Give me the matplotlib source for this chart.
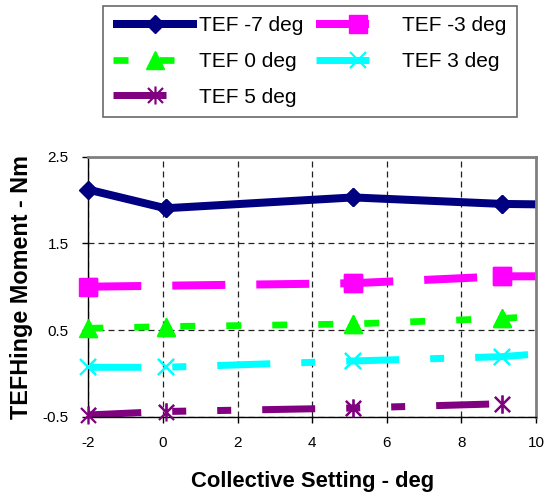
import numpy as np
import matplotlib
matplotlib.use('Agg')
import matplotlib.pyplot as plt
from matplotlib.path import Path

plt.rcParams['font.family'] = ['Liberation Sans', 'DejaVu Sans']
plt.rcParams['lines.scale_dashes'] = False

# collective setting (deg) for each series
x_m7 = [-2, 0.07, 5.1, 9.1, 12]
x_m3 = [-2, 5.1, 9.1, 12]
x_0 = [-2, 0.07, 5.1, 9.1, 12]
x_3 = [-2, 0.07, 5.1, 9.1, 12]
x_5 = [-2, 0.07, 5.1, 9.1]

# hinge moment (Nm)
y_m7 = [2.12, 1.905, 2.03, 1.955, 1.94]
y_m3 = [1.0, 1.04, 1.12, 1.12]
y_0 = [0.52, 0.54, 0.57, 0.635, 0.70]
y_3 = [0.07, 0.07, 0.143, 0.193, 0.29]
y_5 = [-0.48, -0.44, -0.40, -0.35]

labels = ['TEF -7 deg', 'TEF -3 deg', 'TEF 0 deg', 'TEF 3 deg', 'TEF 5 deg']
xticks = [-2, 0, 2, 4, 6, 8, 10]
yticks = [-0.5, 0.5, 1.5, 2.5]

# asterisk like excel: x plus vertical bar
star = Path([(-0.5, -0.5), (0.5, 0.5), (-0.5, 0.5), (0.5, -0.5), (0, -0.6), (0, 0.6)],
            [Path.MOVETO, Path.LINETO, Path.MOVETO, Path.LINETO, Path.MOVETO, Path.LINETO])

px = 0.72  # pixel -> point at dpi 100
styles = [
    dict(color='#000080', lw=8 * px, marker='D', ms=9, dashes=None),
    dict(color='#FF00FF', lw=8 * px, marker='s', ms=13, dashes=[53 * px, 31 * px]),
    dict(color='#00FF00', lw=6.7 * px, marker='^', ms=13, dashes=[15 * px, 31 * px]),
    dict(color='#00FFFF', lw=7 * px, marker='x', ms=12, mew=2.2 * px,
         dashes=[53 * px, 31 * px, 14 * px, 31 * px]),
    dict(color='#800080', lw=7 * px, marker=star, ms=13, mew=2.2 * px,
         dashes=[53 * px, 31 * px, 14 * px, 31 * px, 14 * px, 31 * px]),
]
series = [(x_m7, y_m7), (x_m3, y_m3), (x_0, y_0), (x_3, y_3), (x_5, y_5)]

fig = plt.figure(figsize=(5.52, 4.95), dpi=100)
ax = fig.add_axes([88.3 / 552, 1 - 416.7 / 495, (536 - 88.3) / 552, (416.7 - 156.7) / 495])

handles = []
for (xs, ys), st, lab in zip(series, styles, labels):
    xs = np.array(xs)
    ys = np.array(ys)
    kw = dict(color=st['color'], lw=st['lw'], marker=st['marker'], ms=st['ms'],
              mec=st['color'], mfc=st['color'], mew=st.get('mew', 1), solid_capstyle='butt',
              dash_capstyle='butt')
    if st['dashes'] is not None:
        kw['dashes'] = st['dashes']
    h, = ax.plot(xs, ys, label=lab, **kw)
    handles.append(h)
    # markers at the border are drawn fully, like in the original
    m = xs <= 10
    ax.plot(xs[m], ys[m], ls='none', marker=st['marker'], ms=st['ms'], mec=st['color'],
            mfc=st['color'], mew=st.get('mew', 1), clip_on=False, zorder=3)

ax.set_xlim(-2, 10)
ax.set_ylim(-0.5, 2.5)
ax.set_xticks(xticks)
ax.set_yticks(yticks)
ax.set_xticklabels([str(t) for t in xticks])
ax.set_yticklabels([str(t) for t in yticks])
ax.tick_params(direction='out', length=4, width=1, labelsize=11)
ax.tick_params(axis='x', pad=10)
ax.tick_params(axis='y', pad=10)
ax.grid(True, color='#222222', lw=0.9, dashes=(6 * px, 4 * px))
ax.set_axisbelow(True)
for s in ['top', 'right']:
    ax.spines[s].set_color('#808080')
    ax.spines[s].set_linewidth(2)
for s in ['left', 'bottom']:
    ax.spines[s].set_color('black')
    ax.spines[s].set_linewidth(1)

ax.set_xlabel('Collective Setting - deg', fontsize=15.8, fontweight='bold', labelpad=15)
ax.set_ylabel('TEFHinge Moment - Nm', fontsize=16.8, fontweight='bold', labelpad=7)

# excel legend order is row-wise
order = [0, 2, 4, 1, 3]
leg = fig.legend([handles[i] for i in order], [labels[i] for i in order],
                 loc='upper left', bbox_to_anchor=(103 / 552, 1 - 6 / 495), ncol=2,
                 fontsize=15, frameon=True, fancybox=False, edgecolor='#444444',
                 handlelength=4.0, handletextpad=0.12, columnspacing=0.6,
                 labelspacing=0.8, borderpad=0.5, borderaxespad=0, numpoints=1)
leg.get_frame().set_linewidth(1.2)

plt.savefig('out.png', dpi=100)
plt.close()
